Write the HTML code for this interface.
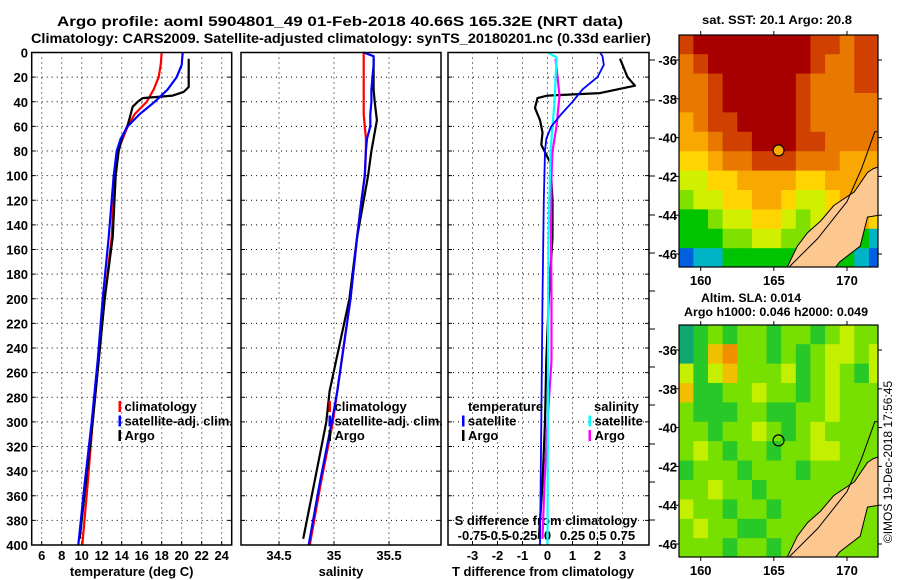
<!DOCTYPE html>
<html><head><meta charset="utf-8"><style>
body{margin:0;background:#fff}
svg{display:block;font-family:"Liberation Sans",Arial,sans-serif;font-weight:bold}
</style></head><body>
<svg id="c" width="900" height="580" viewBox="0 0 900 580">
<text x="340" y="26" font-size="14" text-anchor="middle" textLength="566" lengthAdjust="spacingAndGlyphs">Argo profile: aoml 5904801_49 01-Feb-2018 40.66S 165.32E (NRT data)</text>
<text x="341" y="43" font-size="14" text-anchor="middle" textLength="620" lengthAdjust="spacingAndGlyphs">Climatology: CARS2009. Satellite-adjusted climatology: synTS_20180201.nc (0.33d earlier)</text>
<text x="777" y="24" font-size="12" text-anchor="middle" textLength="150" lengthAdjust="spacingAndGlyphs">sat. SST: 20.1 Argo: 20.8</text>
<text x="751" y="302" font-size="12" text-anchor="middle" textLength="100" lengthAdjust="spacingAndGlyphs">Altim. SLA: 0.014</text>
<text x="776" y="316" font-size="12" text-anchor="middle" textLength="184" lengthAdjust="spacingAndGlyphs">Argo h1000: 0.046 h2000: 0.049</text>
<text transform="translate(892,462) rotate(-90)" font-size="12" font-weight="normal" text-anchor="middle">©IMOS 19-Dec-2018 17:56:45</text>
</svg>
<script>
// ---- profile data ----
const tDepthClim=[0,10,20,30,40,50,60,70,80,100,150,200,250,300,350,400];
const tempClim=[18.0,17.9,17.7,17.2,16.5,15.3,14.6,14.1,13.6,13.3,13.0,12.3,11.7,11.1,10.6,10.06];
const tempSat=[20.1,20.0,19.5,18.6,17.3,15.8,14.6,13.9,13.5,13.2,12.7,12.1,11.6,11.0,10.3,9.66];
const tDepthArgo=[5,10,20,28,32,35,37,40,44,50,59,68,80,100,150,200,250,300,350,395];
const tempArgo=[20.7,20.7,20.7,20.7,20.2,19.1,16.1,15.6,15.1,14.9,14.6,14.1,13.7,13.4,13.1,12.3,11.7,11.1,10.4,9.8];
const sDepthClim=[0,3,10,20,30,40,50,60,70,80,100,120,150,200,250,275,300,350,400];
const salClim=[35.27,35.27,35.27,35.27,35.27,35.27,35.27,35.28,35.29,35.29,35.28,35.25,35.21,35.15,35.07,35.03,34.99,34.88,34.78];
const salSat=[35.27,35.36,35.36,35.35,35.34,35.34,35.33,35.33,35.30,35.29,35.28,35.25,35.21,35.15,35.07,35.03,34.98,34.87,34.77];
const sDepthArgo=[5,20,30,40,55,70,80,100,120,150,200,250,275,300,350,395];
const salArgo=[35.36,35.36,35.36,35.37,35.39,35.36,35.34,35.31,35.27,35.21,35.14,35.02,34.96,34.93,34.82,34.72];
const dDepthSat=[0,3,10,20,30,40,50,60,70,80,120,200,300,400];
const dTempSat=[2.1,2.2,2.25,2.0,1.4,1.0,0.55,0.15,-0.05,-0.1,-0.15,-0.2,-0.25,-0.3];
const dDepthArgo=[5,20,27,33,35,37,45,55,65,75,90,120,150,200,250,300,350,395];
const dTempArgo=[2.9,3.2,3.5,2.1,0.0,-0.4,-0.5,-0.3,-0.2,-0.25,0.12,0.2,0.2,0.05,-0.05,-0.1,-0.2,-0.35];
const dsDepthSat=[0,4,40,80,150,250,400];
const dSalSat=[0.005,0.09,0.07,0.03,0.01,0.005,0.0];
const dsDepthArgo=[5,35,60,80,100,150,200,250,300,350,395];
const dSalArgo=[0.08,0.12,0.09,0.05,0.04,0.035,0.04,0.04,0.0,-0.03,-0.05];
const depthTicks=[0,20,40,60,80,100,120,140,160,180,200,220,240,260,280,300,320,340,360,380,400];
const tempTicks=[6,8,10,12,14,16,18,20,22,24];
const salTicks=[34.5,35,35.5];
const dTicks=[-3,-2,-1,0,1,2,3];
const dSalLabels=['-0.75','-0.5','-0.25','0','0.25','0.5','0.75'];
const dSalLabelAt=[-3,-2,-1,0,1,2,3];
// ---- map data (1-degree blocks, rows lat -35..-46, cols lon 159..172) ----
const mapLons=[159,160,161,162,163,164,165,166,167,168,169,170,171,172];
const mapLats=[-35,-36,-37,-38,-39,-40,-41,-42,-43,-44,-45,-46];
const sstLevels=[
[8,9,9,9,9,9,9,9,9,8,8,7,8,8],
[7,8,9,9,9,9,9,9,9,8,7,7,8,8],
[7,7,8,9,9,9,9,9,8,7,7,7,8,8],
[7,7,8,9,9,9,9,9,8,7,7,7,7,7],
[6,7,8,8,9,9,9,9,8,7,7,7,7,7],
[6,6,7,8,8,9,9,9,8,8,7,7,7,7],
[5,5,6,7,7,8,8,8,7,7,7,6,6,6],
[4,4,5,5,6,6,6,6,5,5,6,6,6,6],
[3,4,4,5,5,6,6,5,4,4,5,6,6,6],
[2,2,3,4,4,5,5,4,3,4,5,6,6,5],
[2,2,2,3,3,4,4,3,3,3,4,3,2,1],
[0,1,1,2,2,2,2,2,2,2,2,2,1,0]];
const slaLevels=[
[1,2,3,2,3,3,2,3,3,2,3,4,3,3],
[1,2,5,6,3,3,2,3,2,3,4,4,3,4],
[4,2,4,5,3,3,3,4,2,3,4,3,2,4],
[5,2,2,3,3,4,3,3,2,3,4,3,3,3],
[3,2,2,2,3,3,2,2,3,3,4,3,3,3],
[3,3,2,3,3,4,3,2,3,4,3,3,3,3],
[3,4,3,2,3,3,2,3,3,4,4,3,3,3],
[2,3,3,3,2,3,3,3,2,3,3,3,3,3],
[3,3,4,3,3,2,3,3,3,3,3,3,3,3],
[4,3,3,2,3,3,2,3,3,3,3,3,3,3],
[3,4,3,3,2,2,3,3,3,3,3,3,3,3],
[3,3,3,2,3,3,2,3,3,3,3,3,3,3]];
const landLon=[165.9,166.6,167.3,168.2,169.1,170.5,171.4,171.8,172.2,172.2,171.4,170.9,169.5,169.2];
const landLat=[-46.7,-45.6,-44.9,-44.3,-43.5,-42.8,-41.8,-41.6,-41.5,-44.0,-44.1,-45.6,-46.4,-46.7];
const contLon=[166.0,168.0,170.0,171.0,171.9,172.2];
const contLat=[-46.7,-45.2,-43.3,-41.6,-39.7,-39.7];
const argoLon=165.32, argoLat=-40.66;
const lonTicks=[160,165,170];
const latTicks=[-36,-38,-40,-42,-44,-46];
const sstPal=['#0060e0','#00b4c8','#00c400','#80e000','#d0f000','#ffd400','#f8a800','#e87800','#d04000','#a80000'];
const slaPal=['#0090a0','#10a870','#28c828','#78e000','#c4f000','#f0c000','#f09000'];

const NS='http://www.w3.org/2000/svg';
const svg=document.getElementById('c');
function el(tag,attrs,parent){const e=document.createElementNS(NS,tag);for(const k in attrs)e.setAttribute(k,attrs[k]);(parent||svg).appendChild(e);return e;}
function txt(x,y,s,size,anchor,parent){const t=el('text',{x:x,y:y,'font-size':size,'text-anchor':anchor||'middle'},parent);t.textContent=s;return t;}

const PT=52.5,PB=545;
function yD(d){return PT+(d/400)*(PB-PT);}
const panels=[
 {name:'temperature',x0:31.7,x1:231.7,lo:5,hi:25},
 {name:'salinity',x0:241,x1:441,lo:34.5-38/110,hi:34.5+162/110},
 {name:'difference',x0:448,x1:649,lo:-3.98,hi:4.06}];
function sx(p,v){return p.x0+(v-p.lo)/(p.hi-p.lo)*(p.x1-p.x0);}

panels.forEach((p,i)=>{
 const g=el('g',{});
 
 
 el('rect',{x:p.x0,y:PT,width:p.x1-p.x0,height:PB-PT,fill:'#fff'},g);
 depthTicks.forEach(d=>{if(d>0&&d<400){const l=el('line',{x1:p.x0,x2:p.x1,y1:yD(d),y2:yD(d),stroke:'#000','stroke-width':1,'stroke-dasharray':'1,4'},g);
   }
   el('line',{x1:p.x0,x2:p.x0+4,y1:yD(d),y2:yD(d),stroke:'#000'},g);
   el('line',{x1:p.x1-4,x2:p.x1,y1:yD(d),y2:yD(d),stroke:'#000'},g);});
 const ticks=i===0?tempTicks:(i===1?salTicks:dTicks);
 ticks.forEach(t=>{const x=sx(p,t);
   const l=el('line',{x1:x,x2:x,y1:PT,y2:PB,stroke:'#000','stroke-width':1,'stroke-dasharray':'1,4'},g);
   
   el('line',{x1:x,x2:x,y1:PB-4,y2:PB,stroke:'#000'},g);
   const lab=txt(x,560,String(t),13,'middle',g);
   });
});
depthTicks.forEach(d=>{const t=txt(28,yD(d)+5,String(d),13,'end');
 });
[['temperature (deg C)',131.7,'x-axis-title-temperature'],['salinity',341,'x-axis-title-salinity'],['T difference from climatology',543,'x-axis-title-t-diff']].forEach(a=>{
 const t=txt(a[1],576,a[0],13);});
const sdt=txt(546,525,'S difference from climatology',13);

dSalLabels.forEach((s,i)=>{const t=txt(sx(panels[2],dSalLabelAt[i]),540,s,13);
 });

function line(p,depths,vals,color,name,w,scale){
 const pts=depths.map((d,i)=>sx(p,vals[i]*(scale||1)).toFixed(1)+','+yD(d).toFixed(1)).join(' ');
 const l=el('polyline',{points:pts,fill:'none',stroke:color,'stroke-width':w||2.2,'stroke-linejoin':'round'});
 
 
}
const [P1,P2,P3]=panels;
line(P1,tDepthClim,tempClim,'#f00','temp-climatology-line');
line(P1,tDepthArgo,tempArgo,'#000','temp-argo-line');
line(P1,tDepthClim,tempSat,'#00f','temp-satellite-line');
line(P2,sDepthClim,salClim,'#f00','sal-climatology-line');
line(P2,sDepthArgo,salArgo,'#000','sal-argo-line');
line(P2,sDepthClim,salSat,'#00f','sal-satellite-line');
line(P3,dDepthArgo,dTempArgo,'#000','t-diff-argo-line');
line(P3,dsDepthArgo,dSalArgo,'#f0f','s-diff-argo-line',2.2,4);
line(P3,dsDepthSat,dSalSat,'#0ff','s-diff-satellite-line',2.2,4);
line(P3,dDepthSat,dTempSat,'#00f','t-diff-satellite-line',1.8);
panels.forEach(p=>el('rect',{x:p.x0,y:PT,width:p.x1-p.x0,height:PB-PT,fill:'none',stroke:'#000','stroke-width':1.5}));
[60,100,138,176,215,253,291,329,367,405,444,482,520].forEach(y=>el('line',{x1:649,x2:655,y1:y,y2:y,stroke:'#000'}));

function legend(items,x,y){items.forEach((it,i)=>{
 const g=el('g',{});
 
 
 el('rect',{x:x,y:y+i*14.5-10,width:2.5,height:11,fill:it[1]},g);
 txt(x+6,y+i*14.5,it[0],13,'start',g);});}
legend([['climatology','#f00'],['satellite-adj. clim.','#00f'],['Argo','#000']],118.5,411);
legend([['climatology','#f00'],['satellite-adj. clim.','#00f'],['Argo','#000']],328.5,411);
const lt=txt(468,411,'temperature',13,'start');
legend([['satellite','#00f'],['Argo','#000']],462,425.5);
const ls=txt(594,411,'salinity',13,'start');
legend([['satellite','#0ff'],['Argo','#f0f']],588.5,425.5);

function drawMap(top,levels,pal,name,fillArgo){
 const X0=679,X1=878,Y0=top,Y1=top+232;
 const lonX=l=>700.7+(l-160)*14.63;
 const latY=l=>top+25+(-36-l)*19.4;
 const g=el('g',{});
 
 
 const cid='clip'+top;
 const cp=el('clipPath',{id:cid},g);el('rect',{x:X0,y:Y0,width:X1-X0,height:Y1-Y0},cp);
 const cg=el('g',{'clip-path':'url(#'+cid+')'},g);
 levels.forEach((row,r)=>row.forEach((v,c)=>{
   const x=lonX(mapLons[c]-0.5),y=latY(mapLats[r]+0.3);
   const rc=el('rect',{x:x.toFixed(1),y:y.toFixed(1),width:15.2,height:20,fill:pal[v]},cg);
   
   
 }));
 const lp=landLon.map((l,i)=>lonX(l).toFixed(1)+','+latY(landLat[i]).toFixed(1)).join(' ');
 const land=el('polygon',{points:lp,fill:'#fcc890',stroke:'#000','stroke-width':1},cg);
 
 
 const cpts=contLon.map((l,i)=>lonX(l).toFixed(1)+','+latY(contLat[i]).toFixed(1)).join(' ');
 el('polyline',{points:cpts,fill:'none',stroke:'#000','stroke-width':1},cg);
 const m=el('circle',{cx:lonX(argoLon),cy:latY(argoLat),r:5.5,fill:fillArgo,stroke:'#000','stroke-width':1.2},g);
 
 
 el('rect',{x:X0,y:Y0,width:X1-X0,height:Y1-Y0,fill:'none',stroke:'#000','stroke-width':1.2},g);
 lonTicks.forEach(l=>{const x=lonX(l);
   el('line',{x1:x,x2:x,y1:Y0-4,y2:Y0,stroke:'#000'},g);el('line',{x1:x,x2:x,y1:Y1,y2:Y1+4,stroke:'#000'},g);
   const t=txt(x,Y1+18,String(l),13,'middle',g);});
 latTicks.forEach(l=>{const y=latY(l);
   el('line',{x1:X0-4,x2:X0,y1:y,y2:y,stroke:'#000'},g);el('line',{x1:X1,x2:X1+4,y1:y,y2:y,stroke:'#000'},g);
   const t=txt(677,y+5,String(l),13,'end',g);});
}
drawMap(35,sstLevels,sstPal,'sst-map','#f8a800');
drawMap(325,slaLevels,slaPal,'sla-map','none');
</script>
</body></html>
